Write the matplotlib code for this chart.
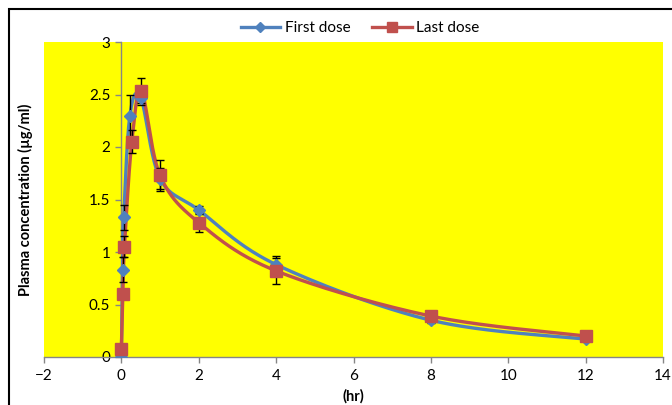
import numpy as np
import matplotlib
matplotlib.use("Agg")
import matplotlib.pyplot as plt
from matplotlib.ticker import FuncFormatter
from matplotlib.patches import Rectangle

plt.rcParams["font.family"] = ["Lato", "DejaVu Sans"]

# ---------------------------------------------------------------------------
# Dane
# ---------------------------------------------------------------------------
first_t = [0, 0.03, 0.06, 0.22, 0.5, 1, 2, 4, 8, 12]
first_c = [0.0, 0.83, 1.33, 2.30, 2.47, 1.70, 1.40, 0.88, 0.35, 0.17]
first_err = [0.0, 0.12, 0.12, 0.20, 0.05, 0.10, 0.04, 0.08, 0.03, 0.02]

last_t = [0, 0.04, 0.08, 0.27, 0.52, 1, 2, 4, 8, 12]
last_c = [0.08, 0.60, 1.05, 2.05, 2.53, 1.73, 1.28, 0.82, 0.39, 0.20]
last_err = [0.0, 0.05, 0.10, 0.11, 0.13, 0.15, 0.09, 0.12, 0.03, 0.02]

XLIM = (-2, 14)
YLIM = (0, 3)


def smooth(xs, ys, n=40):
    """Gładka linia jak w Excelu (Bezier z punktów sąsiednich)."""
    sx = 620.0 / (XLIM[1] - XLIM[0])
    sy = 315.0 / (YLIM[1] - YLIM[0])
    P = np.column_stack([np.asarray(xs) * sx, np.asarray(ys) * sy])
    out = []
    for i in range(len(P) - 1):
        p0 = P[i - 1] if i > 0 else P[i]
        p1, p2 = P[i], P[i + 1]
        p3 = P[i + 2] if i + 2 < len(P) else P[i + 1]
        c1 = p1 + (p2 - p0) / 6.0
        c2 = p2 - (p3 - p1) / 6.0
        t = np.linspace(0, 1, n)[:, None]
        seg = ((1 - t) ** 3) * p1 + 3 * ((1 - t) ** 2) * t * c1 \
            + 3 * (1 - t) * t ** 2 * c2 + t ** 3 * p2
        out.append(seg)
    pts = np.vstack(out)
    return pts[:, 0] / sx, pts[:, 1] / sy


fig = plt.figure(figsize=(6.72, 4.05), dpi=100)
ax = fig.add_axes([44 / 672, 1 - 357 / 405, 619 / 672, 315 / 405])
ax.set_facecolor("#FFFF00")

BLUE = "#4F81BD"
RED = "#C0504D"

for t, c, e, col, mk, ms, lab in [
    (first_t, first_c, first_err, BLUE, "D", 6, "First dose"),
    (last_t, last_c, last_err, RED, "s", 8.5, "Last dose"),
]:
    xs, ys = smooth(t, c)
    ax.plot(xs, ys, color=col, lw=2.4, zorder=3, solid_capstyle="round")
    ax.errorbar(t, c, yerr=e, fmt="none", ecolor="black", elinewidth=1,
                capsize=3, capthick=1, zorder=4)
    ax.plot(t, c, linestyle="none", marker=mk, ms=ms, color=col,
            mec=col, zorder=5)
    ax.plot([], [], color=col, lw=2.4, marker=mk, ms=ms * 0.8, label=lab)

ax.set_xlim(*XLIM)
ax.set_ylim(*YLIM)
ax.set_xticks(np.arange(-2, 15, 2))
ax.set_yticks(np.arange(0, 3.01, 0.5))
ax.yaxis.set_major_formatter(FuncFormatter(lambda v, p: f"{v:g}"))

for s in ["top", "right"]:
    ax.spines[s].set_visible(False)
ax.spines["left"].set_position(("data", 0))
for s in ["left", "bottom"]:
    ax.spines[s].set_color("#868686")
    ax.spines[s].set_linewidth(1)
ax.tick_params(axis="both", colors="#868686", labelcolor="black",
               labelsize=11, length=4, width=1)
ax.tick_params(axis="y", pad=4)
ax.tick_params(axis="x", pad=5)

ax.set_xlabel("(hr)", fontsize=10.5, fontweight="bold", labelpad=4)
fig.text(25 / 672, 1 - 200 / 405, "Plasma concentration (µg/ml)",
         rotation=90, ha="center", va="center", fontsize=10.5,
         fontweight="bold")

fig.legend(loc="center", bbox_to_anchor=(360 / 672, 1 - 28 / 405), ncol=2,
           frameon=False, fontsize=11, handlelength=2.6, columnspacing=1.4,
           handletextpad=0.3)

# obramowanie wykresu
fig.add_artist(Rectangle((9 / 672, -0.2), 2, 1.2 - 9 / 405,
                         transform=fig.transFigure, fill=False,
                         edgecolor="black", lw=1.5))

fig.savefig("out.png", dpi=100)
